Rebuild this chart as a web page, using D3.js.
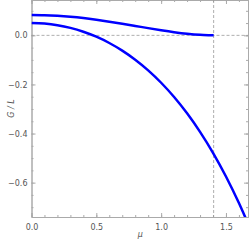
<!DOCTYPE html>
<html>
<head>
<meta charset="utf-8">
<script src="https://cdn.jsdelivr.net/npm/d3@7"></script>
<style>
body { margin: 0; background: #fff; }
text { font-family: "DejaVu Sans", sans-serif; }
</style>
</head>
<body>
<div id="chart"></div>
<script>
// sampled mu values
var mu = [0, 0.1, 0.2, 0.3, 0.4, 0.5, 0.6, 0.7, 0.8, 0.9, 1.0, 1.1, 1.2, 1.3, 1.4, 1.5, 1.6, 1.7];
// upper curve (ends at mu ~ 1.405)
var upperMu = [0, 0.1, 0.2, 0.3, 0.4, 0.5, 0.6, 0.7, 0.8, 0.9, 1.0, 1.1, 1.2, 1.3, 1.4, 1.405];
var upperG = [0.083, 0.0822, 0.0797, 0.0757, 0.0703, 0.0635, 0.0558, 0.0473, 0.0384, 0.0294, 0.0208, 0.0130, 0.0065, 0.0020, 0.0001, 0];
// lower curve
var lowerG = [0.050, 0.0478, 0.0413, 0.0304, 0.0148, -0.0056, -0.0311, -0.0622, -0.0992, -0.1426, -0.1931, -0.2512, -0.3176, -0.3931, -0.4786, -0.5749, -0.6830, -0.8039];
var muCrit = 1.405;
var xTicks = [0, 0.5, 1.0, 1.5];
var yTicks = [0, -0.2, -0.4, -0.6];

var W = 249, H = 240;
var margin = {top: 0, right: 1, bottom: 23, left: 31.5};
var width = W - margin.left - margin.right;
var height = H - margin.top - margin.bottom;

var x = d3.scaleLinear().domain([0, 1.67]).range([0, width]);
var y = d3.scaleLinear().domain([-0.74, 0.144]).range([height, 0]);

var svg = d3.select("#chart").append("svg")
    .attr("width", W).attr("height", H)
    .append("g")
    .attr("transform", "translate(" + margin.left + "," + margin.top + ")");

svg.append("defs").append("clipPath").attr("id", "clip")
    .append("rect").attr("width", width).attr("height", height);

var frameColor = "#aaa";
var textColor = "#555";

// minor ticks
var xMinor = d3.range(0, 1.7, 0.1);
var yMinor = d3.range(-0.7, 0.15, 0.05);

function tickAxis(axis, g) {
    g.call(axis);
    g.select(".domain").attr("stroke", frameColor);
    g.selectAll(".tick line").attr("stroke", frameColor);
    g.selectAll("text").attr("fill", textColor).style("font-size", "8px");
}

// bottom
var xb = svg.append("g").attr("transform", "translate(0," + height + ")");
tickAxis(d3.axisBottom(x).tickValues(xMinor).tickSize(-2).tickFormat(""), xb);
var xb2 = svg.append("g").attr("transform", "translate(0," + height + ")");
tickAxis(d3.axisBottom(x).tickValues(xTicks).tickSize(-4).tickPadding(7).tickFormat(d3.format(".1f")), xb2);
// top
var xt = svg.append("g");
tickAxis(d3.axisTop(x).tickValues(xMinor).tickSize(-2).tickFormat(""), xt);
var xt2 = svg.append("g");
tickAxis(d3.axisTop(x).tickValues(xTicks).tickSize(-4).tickFormat(""), xt2);
// left
var yl = svg.append("g");
tickAxis(d3.axisLeft(y).tickValues(yMinor).tickSize(-2).tickFormat(""), yl);
var yl2 = svg.append("g");
tickAxis(d3.axisLeft(y).tickValues(yTicks).tickSize(-4).tickPadding(4).tickFormat(function(d) {
    return d3.format(".1f")(d).replace("-", "\u2212");
}), yl2);
// right
var yr = svg.append("g").attr("transform", "translate(" + width + ",0)");
tickAxis(d3.axisRight(y).tickValues(yMinor).tickSize(-2).tickFormat(""), yr);
var yr2 = svg.append("g").attr("transform", "translate(" + width + ",0)");
tickAxis(d3.axisRight(y).tickValues(yTicks).tickSize(-4).tickFormat(""), yr2);

// dashed reference lines
svg.append("line")
    .attr("x1", 0).attr("x2", width)
    .attr("y1", y(0)).attr("y2", y(0))
    .attr("stroke", "#999").attr("stroke-dasharray", "3,2").attr("stroke-width", 0.8);
svg.append("line")
    .attr("x1", x(muCrit)).attr("x2", x(muCrit))
    .attr("y1", 0).attr("y2", height)
    .attr("stroke", "#999").attr("stroke-dasharray", "3,2").attr("stroke-width", 0.8);

var line = d3.line()
    .x(function(d) { return x(d[0]); })
    .y(function(d) { return y(d[1]); })
    .curve(d3.curveMonotoneX);

var plot = svg.append("g").attr("clip-path", "url(#clip)");

plot.append("path")
    .datum(upperMu.map(function(m, i) { return [m, upperG[i]]; }))
    .attr("d", line)
    .attr("fill", "none").attr("stroke", "#0000ff").attr("stroke-width", 2.5);

plot.append("path")
    .datum(mu.map(function(m, i) { return [m, lowerG[i]]; }))
    .attr("d", line)
    .attr("fill", "none").attr("stroke", "#0000ff").attr("stroke-width", 2.5);

// axis labels
svg.append("text")
    .attr("x", x(0.84)).attr("y", height + 20)
    .attr("text-anchor", "middle")
    .attr("fill", textColor).style("font-size", "8px").style("font-style", "italic")
    .text("\u03bc");
svg.append("text")
    .attr("transform", "translate(" + (-18) + "," + (height / 2) + ") rotate(-90)")
    .attr("text-anchor", "middle")
    .attr("fill", textColor).style("font-size", "8px").style("font-style", "italic")
    .text("G / L");
</script>
</body>
</html>
